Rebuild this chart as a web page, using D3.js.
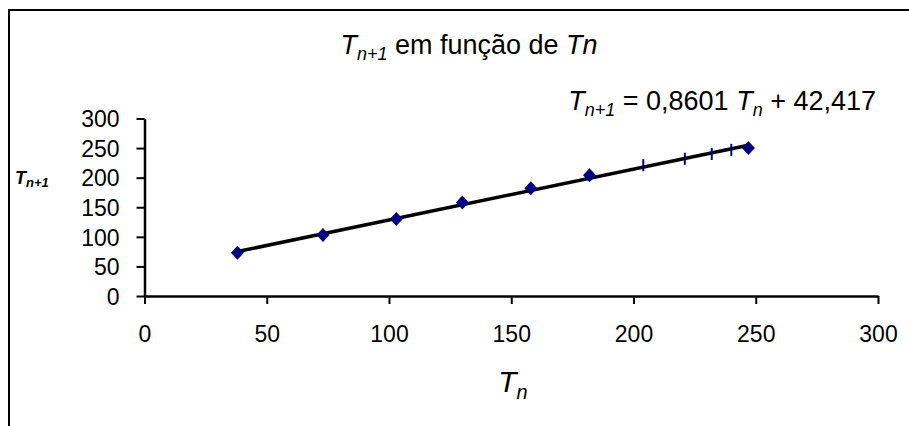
<!DOCTYPE html>
<html>
<head>
<meta charset="utf-8">
<script src="https://cdn.jsdelivr.net/npm/d3@7"></script>
<style>
  html, body { margin: 0; padding: 0; background: #fff; }
  svg { display: block; font-family: "Liberation Sans", Arial, sans-serif; }
</style>
</head>
<body>
<svg id="chart" width="909" height="426"></svg>
<script>
// ---- data ----
const tn     = [38, 73, 103, 130, 158, 182, 204, 221, 232, 240, 247];
const tn1    = [73, 103, 130, 158, 182, 204, 221, 232, 240, 247, 250];
const marker = ["diamond","diamond","diamond","diamond","diamond","diamond","dash","dash","dash","dash","diamond"];
const xTicks = [0, 50, 100, 150, 200, 250, 300];
const yTicks = [0, 50, 100, 150, 200, 250, 300];
const slope = 0.8601, intercept = 42.417;

const svg = d3.select("#chart");

// frame
svg.append("path").attr("d", "M9,426 V10 H909")
  .attr("fill", "none").attr("stroke", "#000").attr("stroke-width", 2);

const x = d3.scaleLinear().domain([0, 300]).range([144.5, 878]);
const y = d3.scaleLinear().domain([0, 300]).range([296, 118.5]);

// axes
const yAxis = svg.append("g").attr("transform", `translate(${x(0)},0)`)
  .call(d3.axisLeft(y).tickValues(yTicks).tickSize(8).tickSizeOuter(0).tickPadding(17));
const xAxis = svg.append("g").attr("transform", `translate(0,${y(0)})`)
  .call(d3.axisBottom(x).tickValues(xTicks).tickSize(8).tickSizeOuter(0).tickPadding(22));
[yAxis, xAxis].forEach(g => {
  g.select(".domain").attr("stroke", "#000").attr("stroke-width", 2.5);
  g.selectAll(".tick line").attr("stroke", "#000").attr("stroke-width", 2);
  g.selectAll(".tick text").attr("fill", "#000")
    .style("font-family", '"Liberation Sans", Arial, sans-serif').style("font-size", "23px");
});
yAxis.selectAll(".tick text").attr("dy", "0.36em");

// trendline
const x0 = d3.min(tn), x1 = d3.max(tn);
svg.append("line")
  .attr("x1", x(x0)).attr("y1", y(slope * x0 + intercept))
  .attr("x2", x(x1)).attr("y2", y(slope * x1 + intercept))
  .attr("stroke", "#000").attr("stroke-width", 3.5);

// points
const pts = tn.map((v, i) => ({ x: v, y: tn1[i], m: marker[i] }));
svg.append("g").selectAll("path.pt").data(pts.filter(d => d.m === "diamond")).join("path")
  .attr("class", "pt")
  .attr("d", d => {
    const cx = x(d.x), cy = y(d.y), w = 6.5, h = 7;
    return `M${cx},${cy - h} L${cx + w},${cy} L${cx},${cy + h} L${cx - w},${cy} Z`;
  })
  .attr("fill", "#000080");
svg.append("g").selectAll("line.dash").data(pts.filter(d => d.m === "dash")).join("line")
  .attr("class", "dash")
  .attr("x1", d => x(d.x)).attr("x2", d => x(d.x))
  .attr("y1", d => y(d.y) - 6).attr("y2", d => y(d.y) + 6)
  .attr("stroke", "#000080").attr("stroke-width", 2);

// title
const title = svg.append("text").attr("x", 469).attr("y", 54)
  .attr("text-anchor", "middle").style("font-size", "27px").attr("fill", "#000");
title.append("tspan").style("font-style", "italic").text("T");
title.append("tspan").style("font-style", "italic").style("font-size", "18px").attr("dy", 6).text("n+1");
title.append("tspan").attr("dy", -6).text(" em função de ");
title.append("tspan").style("font-style", "italic").text("Tn");

// equation
const eq = svg.append("text").attr("x", 876).attr("y", 110)
  .attr("text-anchor", "end").style("font-size", "27px").attr("fill", "#000");
eq.append("tspan").style("font-style", "italic").text("T");
eq.append("tspan").style("font-style", "italic").style("font-size", "18px").attr("dy", 6).text("n+1");
eq.append("tspan").attr("dy", -6).text(" = 0,8601 ");
eq.append("tspan").style("font-style", "italic").text("T");
eq.append("tspan").style("font-style", "italic").style("font-size", "18px").attr("dy", 6).text("n");
eq.append("tspan").attr("dy", -6).text(" + 42,417");

// y-axis title
const yt = svg.append("text").attr("x", 15).attr("y", 184)
  .style("font-size", "18px").style("font-weight", "bold").style("font-style", "italic").attr("fill", "#000");
yt.append("tspan").text("T");
yt.append("tspan").style("font-size", "13px").attr("dy", 3).text("n+1");

// x-axis title
const xt = svg.append("text").attr("x", 513).attr("y", 392)
  .attr("text-anchor", "middle").style("font-size", "30px").style("font-style", "italic").attr("fill", "#000");
xt.append("tspan").text("T");
xt.append("tspan").style("font-size", "20px").attr("dy", 7).text("n");
</script>
</body>
</html>
